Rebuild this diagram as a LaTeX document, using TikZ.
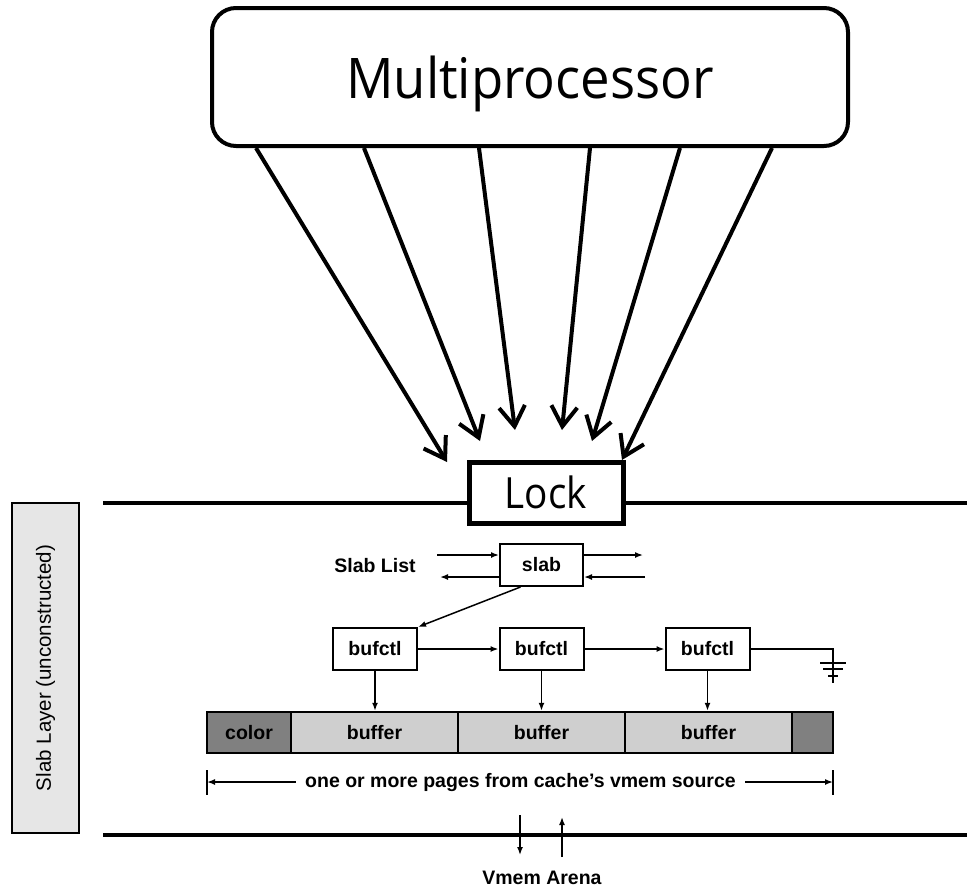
\documentclass[tikz,border=0pt]{standalone}
\usepackage{fontspec}
\setmainfont{Liberation Sans}
\newfontfamily\headfont{Open Sans}
\usetikzlibrary{arrows.meta,calc}

\definecolor{layergray}{HTML}{E6E6E6}
\definecolor{bufgray}{HTML}{CFCFCF}
\definecolor{padgray}{HTML}{808080}

\tikzset{
  bigarrow/.style={line width=4pt,-{Straight Barb[length=20pt,width=26pt]}},
  rail/.style={line width=4.5pt},
  thin/.style={line width=1.5pt},
  arr/.style={line width=1.5pt,-{Latex[length=8pt,width=6pt]}},
  smallbox/.style={draw,line width=2pt,fill=white,minimum width=84pt,minimum height=42pt,
                   inner sep=0pt,font=\bfseries\fontsize{19.5}{22}\selectfont},
  cell/.style={draw,line width=2.5pt,minimum height=41pt,inner sep=0pt,
               font=\bfseries\fontsize{19.5}{22}\selectfont},
  label/.style={font=\bfseries\fontsize{19.5}{22}\selectfont,inner sep=0pt}
}

\begin{document}
\begin{tikzpicture}[x=1pt,y=-1pt]
\useasboundingbox (0,0) rectangle (967,889);

% processor box at the top
\node[draw,line width=4pt,rounded corners=24pt,minimum width=636pt,minimum height=138pt,
      inner sep=0pt,text height=42pt,text depth=0pt] (mp) at (530,77)
  {\headfont\fontsize{56}{60}\selectfont\scalebox{0.94}[1]{Multiprocessor}};

% layer rails
\coordinate (railL) at (103,503);
\coordinate (railR) at (967,503);
\coordinate (baseL) at (103,835);
\coordinate (baseR) at (967,835);
\draw[rail] (baseL) -- (baseR);

% the lock sitting on the top rail
\node[draw,line width=5pt,fill=white,minimum width=154pt,minimum height=61pt,
      inner sep=0pt,text height=31pt,text depth=0pt] (lock) at (546,492.5)
  {\headfont\fontsize{43}{46}\selectfont\scalebox{0.9}[1]{Lock}};
\draw[rail] (railL) -- (railL -| lock.west);
\draw[rail] (railR -| lock.east) -- (railR);

% processors contending for the lock
\foreach \sx/\tx/\ty [count=\i] in {258/447/462, 366/480/441, 481/515/430,
                                     592/562/430, 682/592/441, 774/622/460}{
  \coordinate (s\i) at ($(mp.south west)+(\sx-212,0)$);
  \coordinate (t\i) at (\tx,\ty);
  \draw[bigarrow] (s\i) -- (t\i);
}

% side label of the layer
\node[draw,line width=1.5pt,fill=layergray,minimum width=330pt,minimum height=67pt,
      inner sep=0pt,rotate=90,font=\fontsize{20.5}{24}\selectfont] (layer) at (45.5,668)
  {Slab Layer (unconstructed)};

% slab on the slab list
\node[smallbox,minimum width=83pt] (slab) at (541.5,565) {slab};
\node[label] (slablist) at (375,566) {Slab List};
\coordinate (inL) at (437,555);
\coordinate (outR) at (643,555);
\coordinate (outL) at (440,577);
\coordinate (inR) at (645,577);
\draw[arr] (inL) -- (inL -| slab.west);
\draw[arr] (outR -| slab.east) -- (outR);
\draw[arr] (outL -| slab.west) -- (outL);
\draw[arr] (inR) -- (inR -| slab.east);

% buffer control chain
\node[smallbox] (b1) at (375,649) {bufctl};
\node[smallbox] (b2) at (541.5,649) {bufctl};
\node[smallbox] (b3) at (707.5,649) {bufctl};
\draw[arr] ($(slab.south)+(-21,0)$) -- (b1.north east);
\draw[arr] (b1) -- (b2);
\draw[arr] (b2) -- (b3);

% chain terminator (ground)
\coordinate (gnd) at (833,663);
\draw[thin] (b3.east) -| (gnd) -- ++(0,20);
\draw[thin] ($(gnd)+(-13,0)$) -- ++(26,0);
\draw[thin] ($(gnd)+(-10,6)$) -- ++(20,0);
\draw[thin] ($(gnd)+(-5,13)$) -- ++(10,0);

% page layout
\node[cell,fill=padgray,minimum width=84pt] (color) at (249,732.5) {color};
\node[cell,fill=bufgray,minimum width=167pt] (buf1) at (374.5,732.5) {buffer};
\node[cell,fill=bufgray,minimum width=167pt] (buf2) at (541.5,732.5) {buffer};
\node[cell,fill=bufgray,minimum width=167pt] (buf3) at (708.5,732.5) {buffer};
\node[cell,fill=padgray,minimum width=41pt] (pad) at (812.5,732.5) {};
\draw[arr] (b1.south) -- (b1.south |- buf1.north);
\draw[arr] (b2.south) -- (b2.south |- buf2.north);
\draw[arr] (b3.south) -- (b3.south |- buf3.north);

% extent of the pages
\node[label,inner xsep=9pt] (pages) at (520.5,782) {one or more pages from cache’s vmem source};
\coordinate (dimL) at (207,782);
\coordinate (dimR) at (833,782);
\draw[thin] ($(dimL)+(0,-12)$) -- ($(dimL)+(0,13)$);
\draw[thin] ($(dimR)+(0,-12)$) -- ($(dimR)+(0,13)$);
\draw[arr] (pages.west) -- (dimL);
\draw[arr] (pages.east) -- (dimR);

% exchange with the vmem arena
\node[label] (vmem) at (542,878) {Vmem Arena};
\coordinate (dnA) at (520,815);
\coordinate (dnB) at (520,855);
\coordinate (upA) at (562,857);
\coordinate (upB) at (562,817);
\draw[arr] (dnA) -- (dnB);
\draw[arr] (upA) -- (upB);
\end{tikzpicture}
\end{document}
